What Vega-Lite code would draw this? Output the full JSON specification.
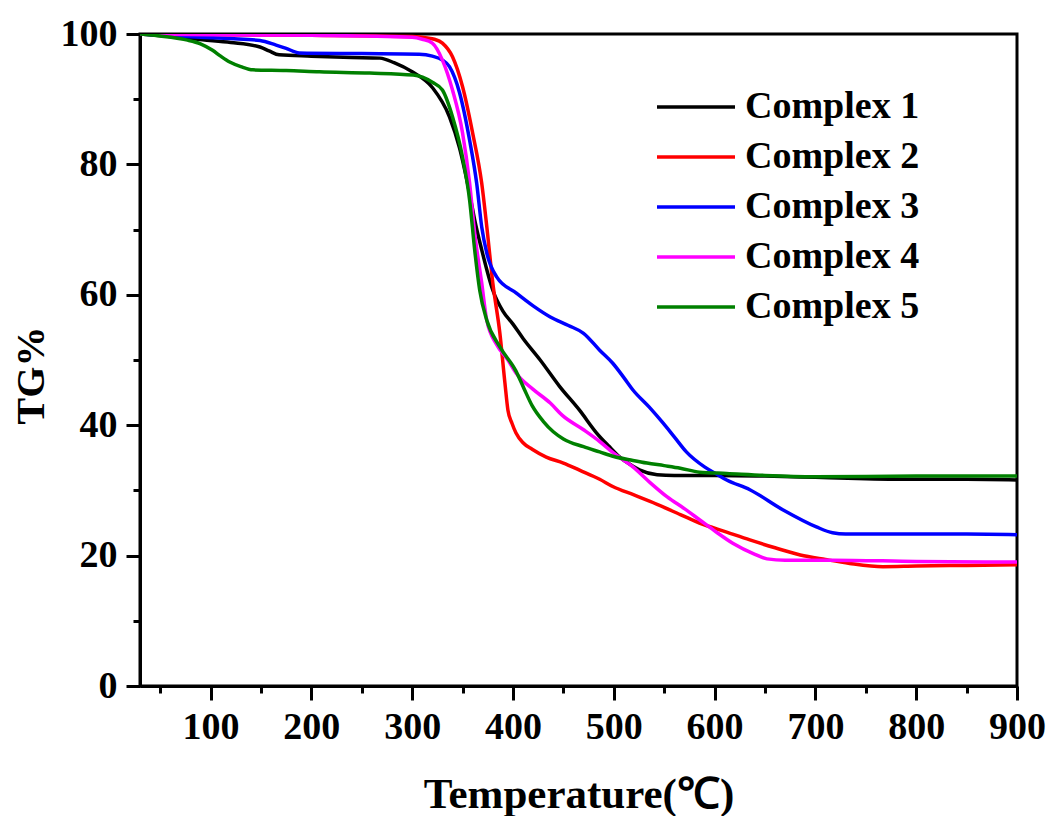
{
  "$schema": "https://vega.github.io/schema/vega-lite/v6.json",
  "width": 877,
  "height": 652,
  "autosize": "none",
  "padding": {"left": 140, "top": 34, "right": 34, "bottom": 130},
  "background": "white",
  "config": {
    "view": {"stroke": "black", "strokeWidth": 3},
    "font": "Liberation Serif",
    "axis": {
      "grid": false,
      "domainColor": "black",
      "domainWidth": 3,
      "tickColor": "black",
      "tickWidth": 3,
      "labelColor": "black",
      "labelFont": "Liberation Serif",
      "labelFontSize": 38,
      "labelFontWeight": "bold",
      "labelFlush": false,
      "labelOverlap": false,
      "titleColor": "black",
      "titleFont": "Liberation Serif",
      "titleFontSize": 40,
      "titleFontWeight": "bold"
    }
  },
  "data": {
    "values": [
      {"s": "Complex 1", "T": 30, "w": 100},
      {"s": "Complex 1", "T": 60, "w": 99.6},
      {"s": "Complex 1", "T": 92, "w": 99.1},
      {"s": "Complex 1", "T": 120, "w": 98.7},
      {"s": "Complex 1", "T": 149, "w": 98.0},
      {"s": "Complex 1", "T": 158, "w": 97.4},
      {"s": "Complex 1", "T": 168, "w": 96.8},
      {"s": "Complex 1", "T": 200, "w": 96.6},
      {"s": "Complex 1", "T": 240, "w": 96.4},
      {"s": "Complex 1", "T": 268, "w": 96.3},
      {"s": "Complex 1", "T": 282, "w": 95.6},
      {"s": "Complex 1", "T": 300, "w": 94.2},
      {"s": "Complex 1", "T": 320, "w": 91.8},
      {"s": "Complex 1", "T": 337, "w": 87.3},
      {"s": "Complex 1", "T": 347, "w": 82.5},
      {"s": "Complex 1", "T": 357, "w": 75.5},
      {"s": "Complex 1", "T": 362, "w": 71.5},
      {"s": "Complex 1", "T": 369, "w": 66.9},
      {"s": "Complex 1", "T": 380, "w": 60.7},
      {"s": "Complex 1", "T": 390, "w": 57.5},
      {"s": "Complex 1", "T": 400, "w": 55.5},
      {"s": "Complex 1", "T": 410, "w": 53.3},
      {"s": "Complex 1", "T": 427, "w": 50.0},
      {"s": "Complex 1", "T": 446, "w": 46.0},
      {"s": "Complex 1", "T": 466, "w": 42.3},
      {"s": "Complex 1", "T": 483, "w": 38.8},
      {"s": "Complex 1", "T": 495, "w": 36.8},
      {"s": "Complex 1", "T": 506, "w": 35.1},
      {"s": "Complex 1", "T": 516, "w": 34.0},
      {"s": "Complex 1", "T": 526, "w": 33.1},
      {"s": "Complex 1", "T": 543, "w": 32.4},
      {"s": "Complex 1", "T": 560, "w": 32.3},
      {"s": "Complex 1", "T": 600, "w": 32.3},
      {"s": "Complex 1", "T": 650, "w": 32.2},
      {"s": "Complex 1", "T": 700, "w": 32.0},
      {"s": "Complex 1", "T": 750, "w": 31.8},
      {"s": "Complex 1", "T": 800, "w": 31.7},
      {"s": "Complex 1", "T": 850, "w": 31.7},
      {"s": "Complex 1", "T": 900, "w": 31.6},

      {"s": "Complex 2", "T": 30, "w": 100},
      {"s": "Complex 2", "T": 100, "w": 99.9},
      {"s": "Complex 2", "T": 200, "w": 99.8},
      {"s": "Complex 2", "T": 300, "w": 99.6},
      {"s": "Complex 2", "T": 315, "w": 99.4},
      {"s": "Complex 2", "T": 322, "w": 99.2},
      {"s": "Complex 2", "T": 330, "w": 98.6},
      {"s": "Complex 2", "T": 340, "w": 96.5},
      {"s": "Complex 2", "T": 350, "w": 91.9},
      {"s": "Complex 2", "T": 360, "w": 84.8},
      {"s": "Complex 2", "T": 369, "w": 77.1},
      {"s": "Complex 2", "T": 374, "w": 70.5},
      {"s": "Complex 2", "T": 380, "w": 61.8},
      {"s": "Complex 2", "T": 387, "w": 54.1},
      {"s": "Complex 2", "T": 392, "w": 46.5},
      {"s": "Complex 2", "T": 395, "w": 42.3},
      {"s": "Complex 2", "T": 399, "w": 40.3},
      {"s": "Complex 2", "T": 403, "w": 38.8},
      {"s": "Complex 2", "T": 410, "w": 37.3},
      {"s": "Complex 2", "T": 419, "w": 36.3},
      {"s": "Complex 2", "T": 433, "w": 35.1},
      {"s": "Complex 2", "T": 450, "w": 34.2},
      {"s": "Complex 2", "T": 466, "w": 33.1},
      {"s": "Complex 2", "T": 486, "w": 31.7},
      {"s": "Complex 2", "T": 499, "w": 30.6},
      {"s": "Complex 2", "T": 520, "w": 29.3},
      {"s": "Complex 2", "T": 536, "w": 28.3},
      {"s": "Complex 2", "T": 566, "w": 26.3},
      {"s": "Complex 2", "T": 585, "w": 25.0},
      {"s": "Complex 2", "T": 612, "w": 23.6},
      {"s": "Complex 2", "T": 635, "w": 22.4},
      {"s": "Complex 2", "T": 660, "w": 21.2},
      {"s": "Complex 2", "T": 685, "w": 20.1},
      {"s": "Complex 2", "T": 710, "w": 19.4},
      {"s": "Complex 2", "T": 734, "w": 18.8},
      {"s": "Complex 2", "T": 767, "w": 18.3},
      {"s": "Complex 2", "T": 800, "w": 18.4},
      {"s": "Complex 2", "T": 850, "w": 18.5},
      {"s": "Complex 2", "T": 900, "w": 18.6},

      {"s": "Complex 3", "T": 30, "w": 100},
      {"s": "Complex 3", "T": 90, "w": 99.5},
      {"s": "Complex 3", "T": 120, "w": 99.3},
      {"s": "Complex 3", "T": 149, "w": 99.0},
      {"s": "Complex 3", "T": 165, "w": 98.3},
      {"s": "Complex 3", "T": 175, "w": 97.8},
      {"s": "Complex 3", "T": 188, "w": 97.1},
      {"s": "Complex 3", "T": 250, "w": 97.0},
      {"s": "Complex 3", "T": 307, "w": 96.9},
      {"s": "Complex 3", "T": 320, "w": 96.6},
      {"s": "Complex 3", "T": 330, "w": 96.0},
      {"s": "Complex 3", "T": 337, "w": 95.0},
      {"s": "Complex 3", "T": 347, "w": 91.0},
      {"s": "Complex 3", "T": 357, "w": 83.7},
      {"s": "Complex 3", "T": 364, "w": 77.1},
      {"s": "Complex 3", "T": 369, "w": 70.4},
      {"s": "Complex 3", "T": 374, "w": 66.4},
      {"s": "Complex 3", "T": 384, "w": 62.7},
      {"s": "Complex 3", "T": 403, "w": 60.3},
      {"s": "Complex 3", "T": 420, "w": 58.3},
      {"s": "Complex 3", "T": 437, "w": 56.6},
      {"s": "Complex 3", "T": 455, "w": 55.3},
      {"s": "Complex 3", "T": 470, "w": 54.1},
      {"s": "Complex 3", "T": 486, "w": 51.5},
      {"s": "Complex 3", "T": 499, "w": 49.5},
      {"s": "Complex 3", "T": 510, "w": 47.3},
      {"s": "Complex 3", "T": 519, "w": 45.4},
      {"s": "Complex 3", "T": 535, "w": 42.8},
      {"s": "Complex 3", "T": 549, "w": 40.3},
      {"s": "Complex 3", "T": 560, "w": 38.2},
      {"s": "Complex 3", "T": 572, "w": 35.9},
      {"s": "Complex 3", "T": 590, "w": 33.6},
      {"s": "Complex 3", "T": 602, "w": 32.5},
      {"s": "Complex 3", "T": 612, "w": 31.6},
      {"s": "Complex 3", "T": 635, "w": 30.1},
      {"s": "Complex 3", "T": 668, "w": 27.0},
      {"s": "Complex 3", "T": 701, "w": 24.4},
      {"s": "Complex 3", "T": 717, "w": 23.5},
      {"s": "Complex 3", "T": 730, "w": 23.3},
      {"s": "Complex 3", "T": 800, "w": 23.3},
      {"s": "Complex 3", "T": 850, "w": 23.3},
      {"s": "Complex 3", "T": 900, "w": 23.2},

      {"s": "Complex 4", "T": 30, "w": 100},
      {"s": "Complex 4", "T": 100, "w": 99.9},
      {"s": "Complex 4", "T": 200, "w": 99.8},
      {"s": "Complex 4", "T": 300, "w": 99.5},
      {"s": "Complex 4", "T": 310, "w": 99.2},
      {"s": "Complex 4", "T": 320, "w": 98.6},
      {"s": "Complex 4", "T": 330, "w": 96.0},
      {"s": "Complex 4", "T": 340, "w": 91.4},
      {"s": "Complex 4", "T": 350, "w": 84.8},
      {"s": "Complex 4", "T": 357, "w": 77.1},
      {"s": "Complex 4", "T": 362, "w": 69.5},
      {"s": "Complex 4", "T": 369, "w": 61.8},
      {"s": "Complex 4", "T": 374, "w": 56.1},
      {"s": "Complex 4", "T": 384, "w": 52.3},
      {"s": "Complex 4", "T": 395, "w": 50.0},
      {"s": "Complex 4", "T": 403, "w": 48.0},
      {"s": "Complex 4", "T": 420, "w": 45.5},
      {"s": "Complex 4", "T": 437, "w": 43.4},
      {"s": "Complex 4", "T": 449, "w": 41.5},
      {"s": "Complex 4", "T": 470, "w": 39.3},
      {"s": "Complex 4", "T": 486, "w": 37.5},
      {"s": "Complex 4", "T": 500, "w": 35.7},
      {"s": "Complex 4", "T": 519, "w": 33.6},
      {"s": "Complex 4", "T": 536, "w": 31.2},
      {"s": "Complex 4", "T": 553, "w": 29.0},
      {"s": "Complex 4", "T": 570, "w": 27.2},
      {"s": "Complex 4", "T": 585, "w": 25.5},
      {"s": "Complex 4", "T": 600, "w": 23.8},
      {"s": "Complex 4", "T": 618, "w": 21.9},
      {"s": "Complex 4", "T": 640, "w": 20.2},
      {"s": "Complex 4", "T": 652, "w": 19.5},
      {"s": "Complex 4", "T": 670, "w": 19.3},
      {"s": "Complex 4", "T": 717, "w": 19.3},
      {"s": "Complex 4", "T": 800, "w": 19.1},
      {"s": "Complex 4", "T": 900, "w": 19.0},

      {"s": "Complex 5", "T": 30, "w": 100},
      {"s": "Complex 5", "T": 50, "w": 99.7},
      {"s": "Complex 5", "T": 76, "w": 99.1},
      {"s": "Complex 5", "T": 90, "w": 98.5},
      {"s": "Complex 5", "T": 102, "w": 97.5},
      {"s": "Complex 5", "T": 110, "w": 96.6},
      {"s": "Complex 5", "T": 119, "w": 95.7},
      {"s": "Complex 5", "T": 130, "w": 95.0},
      {"s": "Complex 5", "T": 142, "w": 94.5},
      {"s": "Complex 5", "T": 175, "w": 94.4},
      {"s": "Complex 5", "T": 208, "w": 94.2},
      {"s": "Complex 5", "T": 258, "w": 94.0},
      {"s": "Complex 5", "T": 301, "w": 93.7},
      {"s": "Complex 5", "T": 320, "w": 92.6},
      {"s": "Complex 5", "T": 330, "w": 91.4},
      {"s": "Complex 5", "T": 340, "w": 87.3},
      {"s": "Complex 5", "T": 350, "w": 81.1},
      {"s": "Complex 5", "T": 357, "w": 74.5},
      {"s": "Complex 5", "T": 362, "w": 66.9},
      {"s": "Complex 5", "T": 367, "w": 60.7},
      {"s": "Complex 5", "T": 374, "w": 56.1},
      {"s": "Complex 5", "T": 387, "w": 52.0},
      {"s": "Complex 5", "T": 403, "w": 48.3},
      {"s": "Complex 5", "T": 411, "w": 45.6},
      {"s": "Complex 5", "T": 419, "w": 43.0},
      {"s": "Complex 5", "T": 430, "w": 40.6},
      {"s": "Complex 5", "T": 440, "w": 39.0},
      {"s": "Complex 5", "T": 450, "w": 37.9},
      {"s": "Complex 5", "T": 470, "w": 36.7},
      {"s": "Complex 5", "T": 486, "w": 35.9},
      {"s": "Complex 5", "T": 500, "w": 35.2},
      {"s": "Complex 5", "T": 519, "w": 34.6},
      {"s": "Complex 5", "T": 533, "w": 34.2},
      {"s": "Complex 5", "T": 550, "w": 33.8},
      {"s": "Complex 5", "T": 566, "w": 33.4},
      {"s": "Complex 5", "T": 585, "w": 32.8},
      {"s": "Complex 5", "T": 612, "w": 32.6},
      {"s": "Complex 5", "T": 650, "w": 32.3},
      {"s": "Complex 5", "T": 700, "w": 32.1},
      {"s": "Complex 5", "T": 800, "w": 32.2},
      {"s": "Complex 5", "T": 900, "w": 32.2}
    ]
  },
  "layer": [
    {
      "mark": {"type": "line", "strokeWidth": 3.5, "interpolate": "monotone", "clip": true},
      "encoding": {
        "x": {
          "field": "T",
          "type": "quantitative",
          "scale": {"domain": [30, 900], "nice": false, "zero": false},
          "axis": {
            "orient": "bottom",
            "values": [100, 200, 300, 400, 500, 600, 700, 800, 900],
            "tickSize": 14,
            "labelPadding": 8,
            "title": "Temperature(℃)",
            "titleFontSize": 43,
            "titleY": 121,
            "titleBaseline": "alphabetic"
          }
        },
        "y": {
          "field": "w",
          "type": "quantitative",
          "scale": {"domain": [0, 100], "nice": false},
          "axis": {
            "orient": "left",
            "values": [0, 20, 40, 60, 80, 100],
            "tickSize": 14,
            "labelPadding": 9,
            "title": "TG%",
            "titleX": -97,
            "titleY": 341,
            "titleAngle": -90,
            "titleAlign": "center",
            "titleBaseline": "alphabetic"
          }
        },
        "color": {
          "field": "s",
          "type": "nominal",
          "scale": {
            "domain": ["Complex 1", "Complex 2", "Complex 3", "Complex 4", "Complex 5"],
            "range": ["#000000", "#ff0000", "#0000ff", "#ff00ff", "#008000"]
          },
          "legend": {
            "title": null,
            "orient": "none",
            "legendX": 515,
            "legendY": 53,
            "padding": 0,
            "symbolType": "stroke",
            "symbolSize": 6084,
            "symbolStrokeWidth": 3.5,
            "clipHeight": 40,
            "rowPadding": 10,
            "labelOffset": 8,
            "labelFont": "Liberation Serif",
            "labelFontSize": 38,
            "labelFontWeight": "bold",
            "labelColor": "black",
            "labelLimit": 400
          }
        }
      }
    },
    {
      "mark": {"type": "line", "strokeOpacity": 0},
      "encoding": {
        "x": {
          "field": "T",
          "type": "quantitative",
          "axis": {
            "orient": "bottom",
            "values": [50, 150, 250, 350, 450, 550, 650, 750, 850],
            "tickSize": 7,
            "labels": false,
            "domain": false,
            "title": null
          }
        },
        "y": {
          "field": "w",
          "type": "quantitative",
          "axis": {
            "orient": "left",
            "values": [10, 30, 50, 70, 90],
            "tickSize": 7,
            "labels": false,
            "domain": false,
            "title": null
          }
        },
        "detail": {"field": "s"}
      }
    }
  ],
  "resolve": {"axis": {"x": "independent", "y": "independent"}}
}
